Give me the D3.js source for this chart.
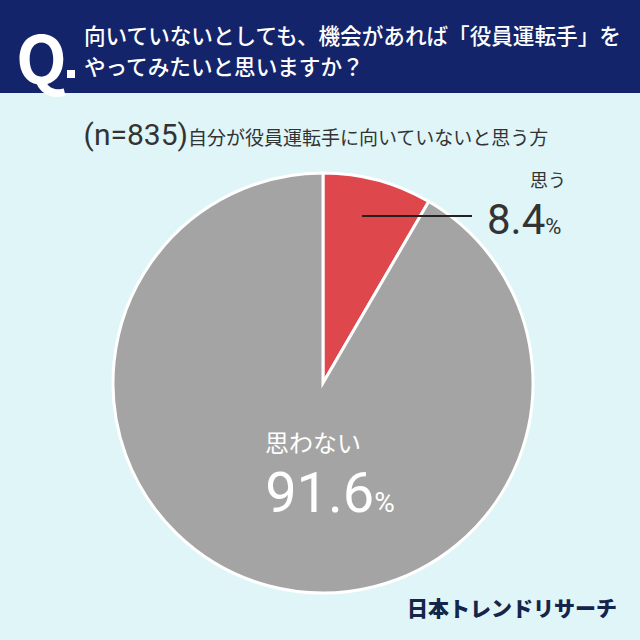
<!DOCTYPE html><html><head><meta charset="utf-8"><script src="https://cdn.jsdelivr.net/npm/d3@7"></script>
<style>body{margin:0}svg{display:block}text{font-family:"Noto Sans CJK JP","Noto Sans",sans-serif}</style></head><body><svg width="640" height="640"></svg>
<script>
const categories=["思う","思わない"];
const values=[8.4,91.6];
const colors=["#de474b","#a4a4a4"];
const svg=d3.select("svg");
svg.append("rect").attr("width",640).attr("height",640).attr("fill","#dff5f8");
svg.append("rect").attr("width",640).attr("height",93).attr("fill","#14246a");
svg.append("text").attr("x",16).attr("y",84).attr("fill","#fff").attr("font-size",66).attr("font-weight",700).attr("font-family","Roboto").text("Q");
svg.append("rect").attr("x",67).attr("y",70).attr("width",8).attr("height",8).attr("fill","#fff");
svg.append("text").attr("x",84).attr("y",44).attr("fill","#fff").attr("font-size",21.6).attr("font-weight",500).text("向いていないとしても、機会があれば「役員運転手」を");
svg.append("text").attr("x",84).attr("y",75).attr("fill","#fff").attr("font-size",21.6).attr("font-weight",500).text("やってみたいと思いますか？");
const sub=svg.append("text").attr("x",316).attr("y",145).attr("text-anchor","middle").attr("fill","#333");
sub.append("tspan").attr("font-size",30).attr("font-family","Roboto").text("(n=835)");
sub.append("tspan").attr("font-size",19).text("自分が役員運転手に向いていないと思う方");
const cx=323,cy=383,r=210;
const pie=d3.pie().sort(null)(values);
const arc=d3.arc().innerRadius(0).outerRadius(r);
svg.append("g").attr("transform",`translate(${cx},${cy})`).selectAll("path").data(pie).join("path")
 .attr("d",arc).attr("fill",(d,i)=>colors[i]).attr("stroke","#fff").attr("stroke-width",3);
svg.append("line").attr("x1",362).attr("x2",472).attr("y1",216).attr("y2",216).attr("stroke","#222").attr("stroke-width",2);
svg.append("text").attr("x",548).attr("y",187).attr("text-anchor","middle").attr("font-size",18).attr("fill","#333").text(categories[0]);
const t1=svg.append("text").attr("x",487).attr("y",234).attr("fill","#333");
t1.append("tspan").attr("font-size",42).attr("font-family","Roboto").text(values[0]);
t1.append("tspan").attr("font-size",22).attr("font-family","Roboto").text("%");
svg.append("text").attr("x",313).attr("y",452).attr("text-anchor","middle").attr("font-size",24).attr("fill","#fff").text(categories[1]);
const t2=svg.append("text").attr("x",330).attr("y",512).attr("text-anchor","middle").attr("fill","#fff");
t2.append("tspan").attr("font-size",56).attr("font-family","Roboto").text(values[1]);
t2.append("tspan").attr("font-size",28).attr("font-family","Roboto").text("%");
svg.append("text").attr("x",617).attr("y",616).attr("text-anchor","end").attr("font-size",21).attr("font-weight",900).attr("fill","#14244a").text("日本トレンドリサーチ");
</script></body></html>
